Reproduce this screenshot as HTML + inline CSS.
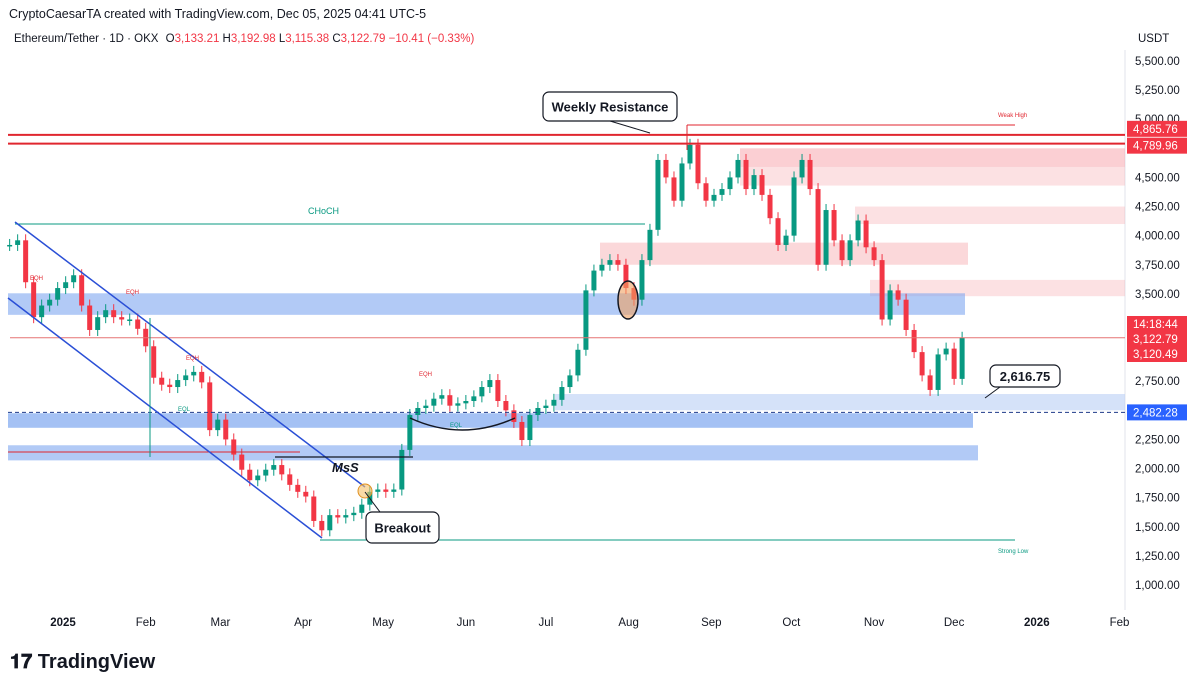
<!DOCTYPE html>
<html><head><meta charset="utf-8"><style>
body{margin:0;background:#fff;font-family:"Liberation Sans",sans-serif;}
svg text{font-family:"Liberation Sans",sans-serif;}
</style></head><body>
<svg id="c" width="1200" height="687" xmlns="http://www.w3.org/2000/svg">
<rect width="1200" height="687" fill="#fff"/>
<text x="9" y="18" font-size="12.5" fill="#131722">CryptoCaesarTA created with TradingView.com, Dec 05, 2025 04:41 UTC-5</text>
<text x="14" y="42" font-size="11.5" fill="#131722">Ethereum/Tether · 1D · OKX <tspan dx="4">O</tspan><tspan fill="#f23645">3,133.21</tspan> H<tspan fill="#f23645">3,192.98</tspan> L<tspan fill="#f23645">3,115.38</tspan> C<tspan fill="#f23645">3,122.79 −10.41 (−0.33%)</tspan></text>
<text x="1138" y="42" font-size="11.5" fill="#131722">USDT</text>
<line x1="1125" y1="50" x2="1125" y2="610" stroke="#e0e3eb"/>
<g id="zones"></g>
<g id="candles"></g>
<g id="over"></g>
<g id="axes"></g>
<text x="10" y="668" font-size="20" font-weight="bold" fill="#131722">𝟏𝟕 TradingView</text>
</svg>
<script>
const startDay=-20;
const stepDays=3;
const closes=[3920,3960,3600,3300,3400,3450,3550,3600,3660,3400,3190,3300,3360,3300,3280,3280,3200,3050,2780,2720,2700,2760,2800,2830,2740,2330,2420,2250,2120,1990,1900,1940,1990,2030,1950,1860,1800,1760,1550,1470,1600,1580,1600,1620,1690,1800,1820,1800,1820,2160,2460,2520,2540,2600,2630,2540,2560,2580,2620,2700,2760,2580,2500,2400,2245,2460,2520,2540,2590,2700,2800,3020,3530,3700,3750,3790,3750,3550,3450,3790,4050,4650,4500,4300,4620,4780,4450,4300,4350,4400,4500,4650,4400,4520,4350,4150,3920,4000,4500,4650,4400,3750,4220,3960,3790,3960,4130,3900,3790,3280,3530,3450,3190,3000,2800,2675,2980,3030,2770,3123];
const tickPrices=[5500,5250,5000,4500,4250,4000,3750,3500,2750,2250,2000,1750,1500,1250,1000];
const timeLabels=["2025","Feb","Mar","Apr","May","Jun","Jul","Aug","Sep","Oct","Nov","Dec","2026","Feb"];
const timeDays=[0,31,59,90,120,151,181,212,243,273,304,334,365,396];
const axisMarks=[[4865.76,"#f23645","4,865.76"],[4789.96,"#f23645","4,789.96"],[3122.79,"#f23645","3,122.79"],[3120.49,"#f23645","3,120.49"],[2482.28,"#2962ff","2,482.28"]];
const NS="http://www.w3.org/2000/svg";
const y=p=>585-(p-1000)*0.11645;
const x=d=>63+d*2.668;
function mk(par,tag,at){const e=document.createElementNS(NS,tag);for(const k in at)e.setAttribute(k,at[k]);document.getElementById(par).appendChild(e);return e;}
const Z=[[740,4750,1125,4590,"#f7a8ae",.55],[740,4590,1125,4430,"#f7a8ae",.35],[855,4250,1125,4100,"#f7a8ae",.35],[600,3940,968,3750,"#f7a8ae",.45],[870,3620,1125,3480,"#f7a8ae",.35],[8,3505,965,3320,"#7ea6f0",.6],[555,2640,1125,2500,"#b9cef5",.6],[8,2475,973,2350,"#7ea6f0",.7],[8,2200,978,2070,"#7ea6f0",.6]];
Z.forEach((z,i)=>{const r=mk("zones","rect",{x:z[0],y:y(z[1]),width:z[2]-z[0],height:y(z[3])-y(z[1]),fill:z[4],"fill-opacity":z[5]});

});
let prev=closes[0];
for(let i=0;i<closes.length;i++){const o=prev,c=closes[i];const up=c>=o;const col=up?"#089981":"#f23645";
const cx=x(startDay+i*stepDays);const top=y(Math.max(o,c)),bot=y(Math.min(o,c));
const w=mk("candles","line",{x1:cx,x2:cx,y1:top-6,y2:bot+6,stroke:col,"stroke-width":1});


const b=mk("candles","rect",{x:cx-2.5,y:top,width:5,height:Math.max(1.5,bot-top),fill:col});


prev=c;}
const L=[[8,y(4865.76),1125,y(4865.76),"#e0262f",2,""],[8,y(4789.96),1125,y(4789.96),"#e0262f",2,""],[687,125,1015,125,"#e0262f",1,""],[10,y(3122.79),1125,y(3122.79),"#e57373",1,""],[8,y(2482.28),1125,y(2482.28),"#1e3a8a",1,"4,3"],[8,452,300,452,"#e0262f",1,""],[15,224,645,224,"#089981",1,""],[320,540,1015,540,"#089981",1,""],[15,222,365,487,"#2a4fd6",1.5,""],[8,298,322,538,"#2a4fd6",1.5,""],[275,457,413,457,"#131722",1.3,""],[150,318,150,457,"#089981",1,""],[687,125,687,150,"#e0262f",1,""]];
L.forEach((l,i)=>{const e=mk("over","line",{x1:l[0],y1:l[1],x2:l[2],y2:l[3],stroke:l[4],"stroke-width":l[5],"stroke-dasharray":l[6]});

});
const arc=mk("over","path",{d:"M410 418 Q462 442 515 418",stroke:"#131722","stroke-width":1.5,fill:"none"});


const el=mk("over","ellipse",{cx:628,cy:300,rx:10,ry:19,fill:"#f0a060","fill-opacity":.6,stroke:"#131722","stroke-width":1.5});


const oc=mk("over","circle",{cx:365,cy:491,r:7,fill:"#f5c26b","fill-opacity":.6,stroke:"#e09020"});


const T=[[308,214,"CHoCH","#089981",9,"normal"],[998,117,"Weak High","#e0262f",6,"normal"],[998,553,"Strong Low","#089981",6,"normal"],[332,472,"MsS","#131722",13,"bold"],[30,280,"EQH","#e0262f",6,"normal"],[126,294,"EQH","#e0262f",6,"normal"],[186,360,"EQH","#e0262f",6,"normal"],[178,411,"EQL","#089981",6,"normal"],[419,376,"EQH","#e0262f",6,"normal"],[450,427,"EQL","#089981",6,"normal"]];
T.forEach((t,i)=>{const e=mk("over","text",{x:t[0],y:t[1],"font-size":t[4],fill:t[3],"font-weight":t[5],"font-style":t[2]=="MsS"?"italic":"normal"});e.textContent=t[2];

});
const B=[[543,92,134,29,"Weekly Resistance",650,133,610,121],[366,512,73,31,"Breakout",365,492,380,512],[990,365,70,22,"2,616.75",985,398,1000,387]];
B.forEach((b,i)=>{const p=mk("over","line",{x1:b[7],y1:b[8],x2:b[5],y2:b[6],stroke:"#131722","stroke-width":1});


const r=mk("over","rect",{x:b[0],y:b[1],width:b[2],height:b[3],rx:6,fill:"#fff",stroke:"#131722","stroke-width":1.2});


const t=mk("over","text",{x:b[0]+b[2]/2,y:b[1]+b[3]/2+5,"font-size":13,"font-weight":"bold","text-anchor":"middle",fill:"#131722"});t.textContent=b[4];

});
tickPrices.forEach(p=>{const t=mk("axes","text",{x:1135,y:y(p)+4,"font-size":11.5,fill:"#131722"});t.textContent=p.toLocaleString("en-US",{minimumFractionDigits:2});

});
timeLabels.forEach((l,i)=>{const t=mk("axes","text",{x:x(timeDays[i]),y:626,"font-size":11.5,fill:"#131722","text-anchor":"middle","font-weight":(l=="2025"||l=="2026")?"bold":"normal"});t.textContent=l;

});
const am=axisMarks.slice();am.splice(2,0,[3250,"#f23645","14:18:44"]);
am.forEach((m,i)=>{let yy=y(m[0]);if(i==0)yy-=6;if(i==1)yy+=2;if(i==3)yy=339;if(i==4)yy=354;if(i==2)yy=324;
const r=mk("axes","rect",{x:1127,y:yy-8,width:60,height:16,fill:m[1]});


const t=mk("axes","text",{x:1133,y:yy+4,"font-size":11.5,fill:"#fff"});t.textContent=m[2];

});
</script>
</body></html>
